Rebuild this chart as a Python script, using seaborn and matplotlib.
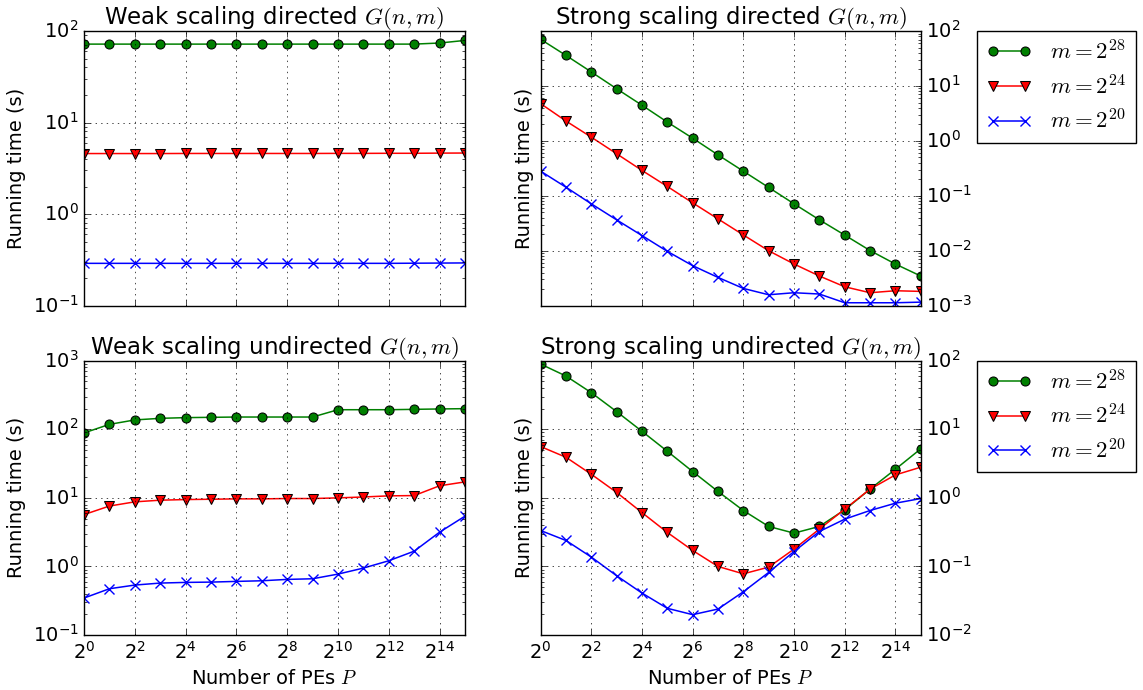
import matplotlib
matplotlib.use("Agg")
import matplotlib.pyplot as plt
import matplotlib.ticker as mticker
import seaborn as sns

plt.style.use("classic")
plt.rcParams["mathtext.fontset"] = "cm"
plt.rcParams["font.family"] = ["DejaVu Sans"]
plt.rcParams["savefig.facecolor"] = "white"
plt.rcParams["figure.facecolor"] = "white"
plt.rcParams["xtick.labelsize"] = 14
plt.rcParams["ytick.labelsize"] = 14

# number of PEs
P = [1, 2, 4, 8, 16, 32, 64, 128, 256, 512, 1024, 2048, 4096, 8192, 16384, 32768]
xtick_vals = [1, 4, 16, 64, 256, 1024, 4096, 16384]

labels = ["$m = 2^{28}$", "$m = 2^{24}$", "$m = 2^{20}$"]

# Weak scaling directed
wd_28 = [72, 72, 72, 72, 72, 72, 72, 72, 72, 72, 72, 72, 72, 72, 74, 79]
wd_24 = [4.59, 4.59, 4.59, 4.59, 4.6, 4.6, 4.6, 4.6, 4.6, 4.6, 4.61, 4.61, 4.62, 4.62, 4.64, 4.65]
wd_20 = [0.29, 0.29, 0.29, 0.29, 0.29, 0.29, 0.29, 0.29, 0.29, 0.29, 0.29, 0.29, 0.29, 0.291, 0.292, 0.293]

# Strong scaling directed
sd_28 = [70.7, 36, 18, 8.9, 4.46, 2.2, 1.12, 0.556, 0.281, 0.142, 0.0716, 0.0366, 0.0193, 0.0101, 0.00573, 0.00347]
sd_24 = [4.77, 2.30, 1.17, 0.583, 0.29, 0.148, 0.0745, 0.038, 0.0194, 0.01, 0.00574, 0.00347, 0.00221, 0.00172, 0.00187, 0.00182]
sd_20 = [0.281, 0.1435, 0.0715, 0.0365, 0.0189, 0.00975, 0.00535, 0.00327, 0.00206, 0.00158, 0.00172, 0.00163, 0.00113, 0.00113, 0.00113, 0.00116]

# Weak scaling undirected
wu_28 = [88.5, 118, 137, 144.5, 148, 149.5, 151, 151, 151, 151, 193, 193, 193, 195.5, 198, 200]
wu_24 = [5.7, 7.6, 8.75, 9.25, 9.45, 9.55, 9.67, 9.67, 9.78, 9.78, 10.0, 10.3, 10.7, 10.8, 15.0, 17.1]
wu_20 = [0.346, 0.473, 0.535, 0.572, 0.585, 0.591, 0.605, 0.618, 0.647, 0.661, 0.773, 0.946, 1.21, 1.67, 3.16, 5.41]

# Strong scaling undirected
su_28 = [89.4, 59.8, 34.2, 18.1, 9.35, 4.78, 2.42, 1.24, 0.654, 0.383, 0.306, 0.383, 0.669, 1.34, 2.61, 5.18]
su_24 = [5.6, 3.91, 2.21, 1.2, 0.61, 0.313, 0.171, 0.1, 0.078, 0.0977, 0.179, 0.35, 0.684, 1.34, 2.16, 2.8]
su_20 = [0.334, 0.239, 0.137, 0.0731, 0.0409, 0.0245, 0.0198, 0.0239, 0.0427, 0.0818, 0.165, 0.323, 0.489, 0.654, 0.836, 0.977]

titles = ["Weak scaling directed $G(n,m)$", "Strong scaling directed $G(n,m)$",
          "Weak scaling undirected $G(n,m)$", "Strong scaling undirected $G(n,m)$"]
ylims = [(1e-1, 1e2), (1e-3, 1e2), (1e-1, 1e3), (1e-2, 1e2)]
data = [(wd_28, wd_24, wd_20), (sd_28, sd_24, sd_20), (wu_28, wu_24, wu_20), (su_28, su_24, su_20)]

styles = [dict(color="g", marker="o", markeredgecolor="k"),
          dict(color="r", marker="v", markeredgecolor="k"),
          dict(color="b", marker="x", markeredgecolor="b", markeredgewidth=1.0)]

fig = plt.figure(figsize=(11.43, 6.9), dpi=100)
positions = [[0.0735, 0.557, 0.3333, 0.398], [0.473, 0.557, 0.3325, 0.398],
             [0.0735, 0.0797, 0.3333, 0.3975], [0.473, 0.0797, 0.3325, 0.3975]]

for i in range(4):
    ax = fig.add_axes(positions[i])
    for series, lab, st in zip(data[i], labels, styles):
        sns.lineplot(x=P, y=series, ax=ax, label=lab, linewidth=1.1,
                     markersize=6.5, **st)
    ax.set_xscale("log", base=2)
    ax.set_yscale("log")
    ax.set_xlim(1, 2 ** 15)
    ax.set_ylim(*ylims[i])
    ax.xaxis.set_major_locator(mticker.FixedLocator(xtick_vals))
    ax.xaxis.set_minor_locator(mticker.NullLocator())
    ax.xaxis.set_major_formatter(mticker.LogFormatterMathtext(base=2))
    ax.grid(True, which="major", color="k", linestyle=":", linewidth=0.5)
    ax.set_title(titles[i], fontsize=16.5)
    ax.set_ylabel("Running time (s)", fontsize=14)
    if i < 2:
        ax.tick_params(labelbottom=False)
        ax.set_xlabel("")
    else:
        ax.set_xlabel("Number of PEs $P$", fontsize=14)
    if i % 2 == 1:
        ax.yaxis.set_ticks_position("both")
        ax.tick_params(axis="y", which="both", labelleft=False, labelright=True)
        ax.legend(loc="upper left", bbox_to_anchor=(1.148, 1.0), borderaxespad=0,
                  numpoints=2, fancybox=False, fontsize=16.5, labelspacing=0.45)
    else:
        leg = ax.get_legend()
        if leg is not None:
            leg.remove()

fig.savefig("out.png", dpi=100)
